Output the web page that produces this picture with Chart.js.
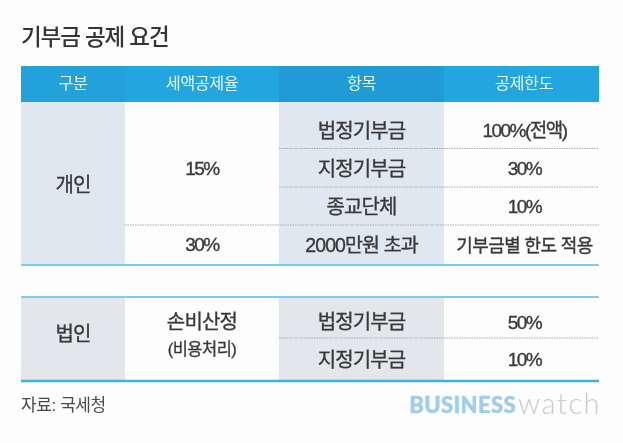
<!DOCTYPE html>
<html lang="ko"><head><meta charset="utf-8">
<script src="https://cdn.jsdelivr.net/npm/chart.js@4"></script>
<style>html,body{margin:0;padding:0;background:#fdfdfd}canvas{display:block}</style>
</head><body><canvas id="c" width="623" height="443"></canvas>
<script>
const titleText = "기부금 공제 요건";
const sourceText = "자료: 국세청";
const logoBold = "BUSINESS";
const logoLight = "watch";
const headers = ["구분", "세액공제율", "항목", "공제한도"];
const groups = ["개인", "법인"];
const rates = ["15%", "30%", "손비산정", "(비용처리)"];
const items = ["법정기부금", "지정기부금", "종교단체", "2000만원 초과", "법정기부금", "지정기부금"];
const limits = ["100%(전액)", "30%", "10%", "기부금별 한도 적용", "50%", "10%"];

// table geometry in scale units
const colEdges = [0, 104, 258, 423, 578];
const rowEdges = [0, 36, 82.5, 121, 159, 199, 231, 272, 315];
const FONT = '"Liberation Sans","Noto Sans CJK KR",sans-serif';
const INK = "#39393b";

function cell(x0, x1, y0, y1, color) {
  return {data:[{x:x0,y:y0},{x:x1,y:y0}], showLine:true, pointRadius:0, borderWidth:0, clip:false,
          borderColor:color, backgroundColor:color, fill:{value:y1}, order:5};
}
function rule(x0, x1, y, color, width, dash) {
  return {data:[{x:x0,y:y},{x:x1,y:y}], showLine:true, pointRadius:0, borderWidth:width, clip:false,
          borderColor:color, borderDash:dash||[], fill:false, order:1};
}
const E = colEdges, R = rowEdges, W = E[4];
const datasets = [
  rule(0,W,R[5],"#7fcaee",2),
  rule(0,W,R[6],"#7fcaee",2),
  rule(0,W,R[8],"#3fb1e6",2.5),
  rule(E[2],W,R[2],"#a9a9ad",1,[1.5,1]),
  rule(E[2],W,R[3],"#a9a9ad",1,[1.5,1]),
  rule(E[1],W,R[4],"#a9a9ad",1,[1.5,1]),
  rule(E[2],W,R[7],"#a9a9ad",1,[1.5,1]),
  cell(E[0],E[1],R[0],R[1],"#22a1da"),
  cell(E[1],E[2],R[0],R[1],"#23a5df"),
  cell(E[2],E[3],R[0],R[1],"#219bd5"),
  cell(E[3],E[4],R[0],R[1],"#23a5df"),
  cell(E[0],E[1],R[1],R[5],"#dfe8f0"),
  cell(E[2],E[3],R[1],R[5],"#dfe8f0"),
  cell(E[0],E[1],R[6],R[8],"#e3e6ea"),
  cell(E[2],E[3],R[6],R[8],"#e3e6ea"),
];

const mid = (a,b)=>(a+b)/2;
const textPlugin = {
  id:"tableText",
  beforeDraw(chart){ chart.ctx.letterSpacing="-1.1px"; },
  beforeDatasetsDraw(chart){ chart.ctx.letterSpacing="0px"; },
  afterDatasetsDraw(chart){
    const {ctx, scales:{x,y}} = chart;
    const put = (s, ux, uy, size, color, spacing, align, stroke) => {
      ctx.save();
      ctx.font = "400 "+size+"px "+FONT;
      ctx.fillStyle = color||INK;
      ctx.strokeStyle = color||INK;
      ctx.lineWidth = stroke===undefined?0.35:stroke;
      ctx.textAlign = align||"center";
      ctx.textBaseline = "middle";
      ctx.letterSpacing = (spacing===undefined?-0.8:spacing)+"px";
      const px=x.getPixelForValue(ux), py=y.getPixelForValue(uy);
      ctx.fillText(s, px, py);
      if (ctx.lineWidth>0.01 && stroke!==0) ctx.strokeText(s, px, py);
      ctx.restore();
    };
    const c = i => mid(E[i],E[i+1]);
    const hx = [c(0),c(1),c(2),c(3)+2.5];
    headers.forEach((h,i)=>put(h,hx[i],19,16.3,"#e9f6fc",-0.5,"center",0));
    put(groups[0],c(0),120,20);
    put(groups[1],c(0),269,20);
    put(rates[0],c(1),104,19,INK,-1.5);
    put(rates[1],c(1),180,19,INK,-1.5);
    put(rates[2],c(1),257,20);
    put(rates[3],c(1),284,16.5,INK,-0.5);
    const ys=[66,104,142,181,257,295];
    items.forEach((s,i)=>put(s,c(2),ys[i],i==3?19.5:20,INK,-0.9));
    limits.forEach((s,i)=>put(s,c(3)+3,ys[i]+(i==4?1:0),i==3?18:19,INK,i==3?-0.6:-1.5));
    put(sourceText,0,340,17,"#4a4a4c",-0.4,"left",0);
    // logo
    ctx.save();
    ctx.textBaseline="middle"; ctx.textAlign="right";
    ctx.letterSpacing="1.5px";
    ctx.font='300 29px "Lato",sans-serif'; ctx.fillStyle="#c6cbd0";
    const lx=x.getPixelForValue(W)+2, ly=y.getPixelForValue(339);
    ctx.fillText(logoLight,lx,ly);
    const lw=ctx.measureText(logoLight).width;
    ctx.letterSpacing="0.4px";
    ctx.font='900 22px "Lato",sans-serif'; ctx.fillStyle="#a0cdec";
    ctx.strokeStyle="#a0cdec"; ctx.lineWidth=0.5;
    ctx.fillText(logoBold,lx-lw-2,ly+1);
    ctx.strokeText(logoBold,lx-lw-2,ly+1);
    ctx.restore();
  }
};

new Chart(document.getElementById("c"),{
  type:"scatter",
  data:{datasets},
  plugins:[textPlugin],
  options:{
    responsive:false, animation:false, devicePixelRatio:1,
    layout:{padding:{left:21,right:24,top:0,bottom:62}},
    scales:{
      x:{type:"linear",min:0,max:W,display:false},
      y:{type:"linear",min:0,max:R[8],reverse:true,display:false}
    },
    plugins:{
      legend:{display:false}, tooltip:{enabled:false},
      title:{display:true,text:titleText,align:"start",color:"#343436",
             font:{family:FONT,size:22.5,weight:"500",lineHeight:1.2},
             padding:{top:25,bottom:14}}
    }
  }
});
</script></body></html>
